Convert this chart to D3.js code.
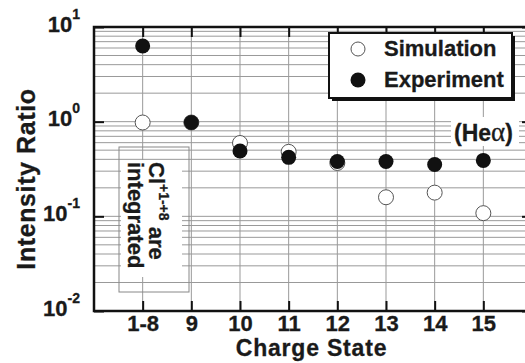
<!DOCTYPE html>
<html>
<head>
<meta charset="utf-8">
<script src="https://cdn.jsdelivr.net/npm/d3@7"></script>
<style>
  body { margin: 0; background: #fff; }
  text { font-family: "Liberation Sans", Arial, sans-serif; font-weight: bold; fill: #1a1a1a; stroke: #1a1a1a; stroke-width: 0.3; }
</style>
</head>
<body>
<div id="chart"></div>
<script>
// charge states and intensity ratios
const categories = ["1-8", "9", "10", "11", "12", "13", "14", "15"];
const simulation = [0.98, 0.98, 0.595, 0.48, 0.366, 0.159, 0.178, 0.108];
const experiment = [6.3, 0.98, 0.49, 0.42, 0.38, 0.38, 0.353, 0.39];
const decades = [0.01, 0.1, 1, 10];
const decadeExp = ["-2", "-1", "0", "1"];

const width = 525,
      height = 363,
      margin = ({top: 27, right: -7, bottom: 52, left: 94});

let svg = d3.select("#chart")
    .append("svg")
    .attr("width", width)
    .attr("height", height)
    .attr("viewBox", [0, 0, width, height]);

// padding 1 leaves an empty slot at each end like the original frame
let x = d3.scalePoint()
    .domain(categories)
    .range([margin.left, width - margin.right])
    .padding(1);

let y = d3.scaleLog()
    .domain([0.01, 10])
    .range([height - margin.bottom, margin.top]);

const x0 = margin.left, x1 = width - margin.right,
      y0 = height - margin.bottom, y1 = margin.top;

// grid
svg.append("g")
    .attr("stroke", "#999")
    .attr("stroke-width", 1)
    .selectAll("line.h")
    .data(y.ticks().filter(v => v > 0.01 && v < 10))
    .join("line")
    .attr("x1", x0).attr("x2", x1)
    .attr("y1", d => y(d)).attr("y2", d => y(d));

svg.append("g")
    .attr("stroke", "#999")
    .attr("stroke-width", 1)
    .selectAll("line.v")
    .data(categories)
    .join("line")
    .attr("x1", d => x(d)).attr("x2", d => x(d))
    .attr("y1", y0).attr("y2", y1);

// box with the rotated note, it hides the grid behind the words
svg.append("rect")
    .attr("x", 119).attr("y", 147)
    .attr("width", 70).attr("height", 145)
    .attr("fill", "none")
    .attr("stroke", "#888")
    .attr("stroke-width", 1);

svg.append("rect")
    .attr("x", 121).attr("y", 160)
    .attr("width", 61).attr("height", 117)
    .attr("fill", "#fff");

let note = svg.append("g")
    .attr("transform", "translate(149,162) rotate(90)");

let line1 = note.append("text")
    .attr("x", 0).attr("y", 0)
    .attr("font-size", 22);
line1.append("tspan").text("Cl");
line1.append("tspan").attr("font-size", 14).attr("dy", -10).text("+1-+8");
line1.append("tspan").attr("dy", 10).text(" are");

note.append("text")
    .attr("x", 0).attr("y", 21)
    .attr("font-size", 22)
    .text("integrated");

// (Hea) label
svg.append("rect")
    .attr("x", 451).attr("y", 117)
    .attr("width", 68).attr("height", 29)
    .attr("fill", "#fff");

let he = svg.append("text")
    .attr("x", 454).attr("y", 141)
    .attr("font-size", 23);
he.append("tspan").text("(He");
he.append("tspan")
    .style("font-family", "'Liberation Serif', serif")
    .style("font-weight", "normal")
    .attr("font-size", 27)
    .text("α");
he.append("tspan").text(")");

// frame
svg.append("rect")
    .attr("x", x0).attr("y", y1)
    .attr("width", x1 - x0).attr("height", y0 - y1)
    .attr("fill", "none")
    .attr("stroke", "#111")
    .attr("stroke-width", 2.5);

const styleAxis = g => {
    g.select(".domain").remove();
    g.selectAll(".tick line").attr("stroke", "#111").attr("stroke-width", 2);
    g.selectAll(".tick text").attr("fill", "#1a1a1a").attr("font-family", null);
};

svg.append("g")
    .attr("transform", `translate(0,${y0})`)
    .call(d3.axisBottom(x).tickSize(-10).tickPadding(4))
    .call(styleAxis)
    .selectAll(".tick text")
    .attr("font-size", 22);

svg.append("g")
    .attr("transform", `translate(0,${y1})`)
    .call(d3.axisTop(x).tickSize(-10).tickFormat(""))
    .call(styleAxis);

svg.append("g")
    .attr("transform", `translate(${x1},0)`)
    .call(d3.axisRight(y).tickValues(decades).tickSize(-10).tickFormat(""))
    .call(styleAxis);

let yAxis = svg.append("g")
    .attr("transform", `translate(${x0},0)`)
    .call(d3.axisLeft(y).tickValues(decades).tickSize(-10).tickPadding(14))
    .call(styleAxis);

yAxis.selectAll(".tick text")
    .attr("dy", 4)
    .attr("font-size", 22)
    .text(null)
    .each(function(d, i) {
        let t = d3.select(this);
        t.append("tspan").text("10");
        t.append("tspan").attr("font-size", 14).attr("dy", -13).text(decadeExp[i]);
    });

// axis titles
svg.append("text")
    .attr("x", (x0 + 525) / 2 + 2)
    .attr("y", 356)
    .attr("text-anchor", "middle")
    .attr("font-size", 23)
    .attr("letter-spacing", 0.8)
    .text("Charge State");

svg.append("text")
    .attr("transform", `translate(35,${(y0 + y1) / 2 + 10}) rotate(-90)`)
    .attr("text-anchor", "middle")
    .attr("font-size", 25)
    .attr("letter-spacing", 0.6)
    .text("Intensity Ratio");

// legend
svg.append("rect")
    .attr("x", 332).attr("y", 36)
    .attr("width", 183).attr("height", 65)
    .attr("fill", "#111");

svg.append("rect")
    .attr("x", 329).attr("y", 33)
    .attr("width", 183).attr("height", 65)
    .attr("fill", "#fff")
    .attr("stroke", "#111")
    .attr("stroke-width", 2);

svg.append("circle")
    .attr("cx", 358).attr("cy", 49).attr("r", 7)
    .attr("fill", "#fff").attr("stroke", "#555").attr("stroke-width", 1);
svg.append("circle")
    .attr("cx", 358).attr("cy", 80).attr("r", 7.5)
    .attr("fill", "#111");

svg.append("text")
    .attr("x", 384).attr("y", 56)
    .attr("font-size", 22)
    .text("Simulation");
svg.append("text")
    .attr("x", 384).attr("y", 87)
    .attr("font-size", 22)
    .text("Experiment");

// points, experiment drawn on top
svg.append("g")
    .selectAll("circle")
    .data(simulation)
    .join("circle")
    .attr("cx", (d, i) => x(categories[i]))
    .attr("cy", d => y(d))
    .attr("r", 7.5)
    .attr("fill", "#fff")
    .attr("stroke", "#555")
    .attr("stroke-width", 1);

svg.append("g")
    .selectAll("circle")
    .data(experiment)
    .join("circle")
    .attr("cx", (d, i) => x(categories[i]))
    .attr("cy", d => y(d))
    .attr("r", 7.5)
    .attr("fill", "#111");
</script>
</body>
</html>
